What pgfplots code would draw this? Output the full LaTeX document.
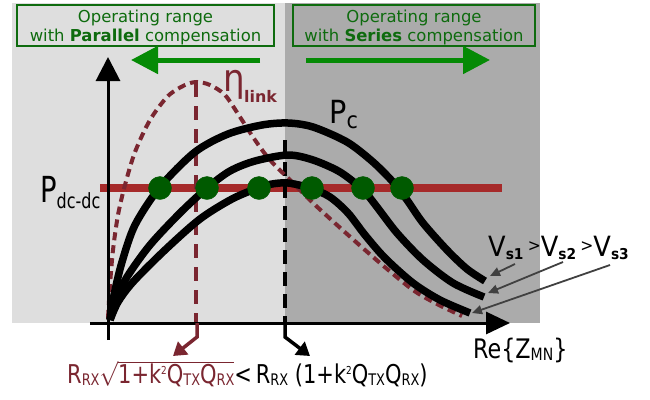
\documentclass[border=0pt]{standalone}
\usepackage{pgfplots}
\pgfplotsset{compat=1.18}
\usepackage{fontspec}
\setmainfont{DejaVu Sans}
\newfontfamily\cond{DejaVu Sans Condensed}
\usetikzlibrary{arrows.meta}
\definecolor{bgA}{HTML}{DEDEDE}
\definecolor{bgB}{HTML}{ABABAB}
\definecolor{boxg}{HTML}{0E6B0E}
\definecolor{arrg}{HTML}{058A05}
\definecolor{dotg}{HTML}{005A00}
\definecolor{pline}{HTML}{A62A2A}
\definecolor{etac}{HTML}{7A2630}
\definecolor{garr}{HTML}{404040}
\newcommand{\fs}[1]{\fontsize{#1}{#1}\selectfont}
\begin{document}
\begin{tikzpicture}
\begin{axis}[width=650bp,height=399bp,scale only axis,xmin=0,xmax=650,ymin=0,ymax=399,y dir=reverse,hide axis,clip=false]
\addplot[draw=none,fill=white,forget plot] coordinates {(0,0)(650,0)(650,399)(0,399)} -- cycle;
\addplot[draw=none,fill=bgA,forget plot] coordinates {(12,3)(285,3)(285,323)(12,323)} -- cycle;
\addplot[draw=none,fill=bgB,forget plot] coordinates {(285,3)(540,3)(540,323)(285,323)} -- cycle;
% boxes
\draw[boxg,line width=2bp] (17,5) rectangle (274,46);
\draw[boxg,line width=2bp] (293,5) rectangle (535,46);
\node[boxg,align=center,font=\fontsize{16.5}{20}\selectfont] at (145.5,27.5) {Operating range\\with \textbf{Parallel} compensation};
\node[boxg,align=center,font=\fontsize{16.5}{20}\selectfont] at (414,27.5) {Operating range\\with \textbf{Series} compensation};
% green arrows
\addplot[arrg,line width=5bp,-{Triangle[length=27bp,width=27bp]},forget plot] coordinates {(260,60)(131,60)};
\addplot[arrg,line width=5bp,-{Triangle[length=27bp,width=27bp]},forget plot] coordinates {(306,60)(490,60)};
% P dc-dc line
\addplot[pline,line width=7.5bp,forget plot] coordinates {(100,188)(502,188)};
% vertical dashed lines
\addplot[etac,line width=3.5bp,dash pattern=on 14bp off 9bp,forget plot] coordinates {(196,83)(196,323)};
\addplot[black,line width=3.5bp,dash pattern=on 14bp off 8bp,forget plot] coordinates {(285,140)(285,323)};
% eta link
\addplot[etac,line width=4bp,dash pattern=on 8bp off 5bp,smooth,forget plot] coordinates {
(108,318)(110,285)(113,250)(118,215)(125,185)(135,152)(150,120)(168,96)(185,85)(197,82)(210,85)(225,95)(240,117)(255,140)(270,160)(290,180)(313,203)(347,234)(380,263)(413,290)(437,304)(462,316)};
% Pc curves
\addplot[black,line width=7.5bp,smooth,forget plot] coordinates {
(110,320)(114,295)(122,262)(135,225)(160,187)(195,152)(228,134)(262,125)(288,123)(313,127)(347,142)(373,162)(393,182)(407,200)(423,223)(447,250)(467,269)(485,281)};
\addplot[black,line width=7.5bp,smooth,forget plot] coordinates {
(110,320)(116,300)(127,277)(150,245)(180,213)(207,188)(230,171)(255,161)(288,155)(313,160)(340,172)(363,190)(377,207)(397,233)(423,260)(453,283)(484,297)};
\addplot[black,line width=7.5bp,smooth,forget plot] coordinates {
(110,320)(118,302)(133,282)(165,250)(200,219)(232,199)(258,188)(272,184)(288,183)(310,188)(330,197)(348,213)(365,235)(385,258)(413,283)(440,300)(470,313)};
% dots
\addplot[only marks,mark=*,mark size=11.5bp,dotg,forget plot] coordinates {(160,188)(207,188)(259,188)(312,188)(363,188)(402,188)};
% axes
\addplot[black,line width=3bp,-{Triangle[length=24bp,width=24bp]},forget plot] coordinates {(108,340)(108,57)};
\addplot[black,line width=3bp,-{Triangle[length=24bp,width=22bp]},forget plot] coordinates {(90,323)(510,323)};
% lower arrows
\addplot[etac,line width=3.5bp,-{Triangle[length=13bp,width=16bp]},forget plot] coordinates {(197,323)(197,337)(173,356)};
\addplot[black,line width=3.5bp,-{Triangle[length=13bp,width=16bp]},forget plot] coordinates {(285,323)(285,337)(310,356)};
% gray arrows
\addplot[garr,line width=1.8bp,-{Triangle[length=10bp,width=9bp]},forget plot] coordinates {(515,264)(490,276)};
\addplot[garr,line width=1.8bp,-{Triangle[length=10bp,width=9bp]},forget plot] coordinates {(563,262)(488,293)};
\addplot[garr,line width=1.8bp,-{Triangle[length=10bp,width=9bp]},forget plot] coordinates {(610,265)(472,313)};
% labels
\node[anchor=base west,inner sep=0pt,font=\cond\fs{36}] at (40,202) {\scalebox{0.85}[1]{P\raisebox{-6bp}{\fs{21}dc-dc}}};
\node[anchor=base west,inner sep=0pt,font=\cond\fs{32}] at (329,123) {P\raisebox{-5bp}{\fs{23}c}};
\node[anchor=base west,inner sep=0pt,font=\cond\fs{38},etac] at (223,91) {η};
\node[anchor=base west,inner sep=0pt,font=\bfseries\fs{16},etac] at (244,102) {link};
\node[anchor=base west,inner sep=0pt,font=\fs{28}] at (488,256) {\scalebox{0.92}[1]{V\raisebox{-3bp}{\bfseries\fs{15}s1}\,\raisebox{5bp}{\fs{17}>}V\raisebox{-3bp}{\bfseries\fs{15}s2}\,\raisebox{5bp}{\fs{17}>}V\raisebox{-3bp}{\bfseries\fs{15}s3}}};
\node[anchor=base west,inner sep=0pt,font=\cond\fs{27}] at (473,358) {\scalebox{0.92}[1]{Re\{Z\raisebox{-2bp}{\fs{17}MN}\}}};
\node[anchor=base west,inner sep=0pt,font=\cond\fs{26}] at (67,383) {\scalebox{0.9}[1]{\textcolor{etac}{R\raisebox{-2bp}{\fs{16}RX}$\sqrt{\hbox{\cond\fs{26}1+k\raisebox{9bp}{\fs{11}2}Q\raisebox{-2bp}{\fs{16}TX}Q\raisebox{-2bp}{\fs{16}RX}}}$}<\,R\raisebox{-2bp}{\fs{16}RX}\ (1+k\raisebox{9bp}{\fs{11}2}Q\raisebox{-2bp}{\fs{16}TX}Q\raisebox{-2bp}{\fs{16}RX})}};
\end{axis}
\end{tikzpicture}
\end{document}
